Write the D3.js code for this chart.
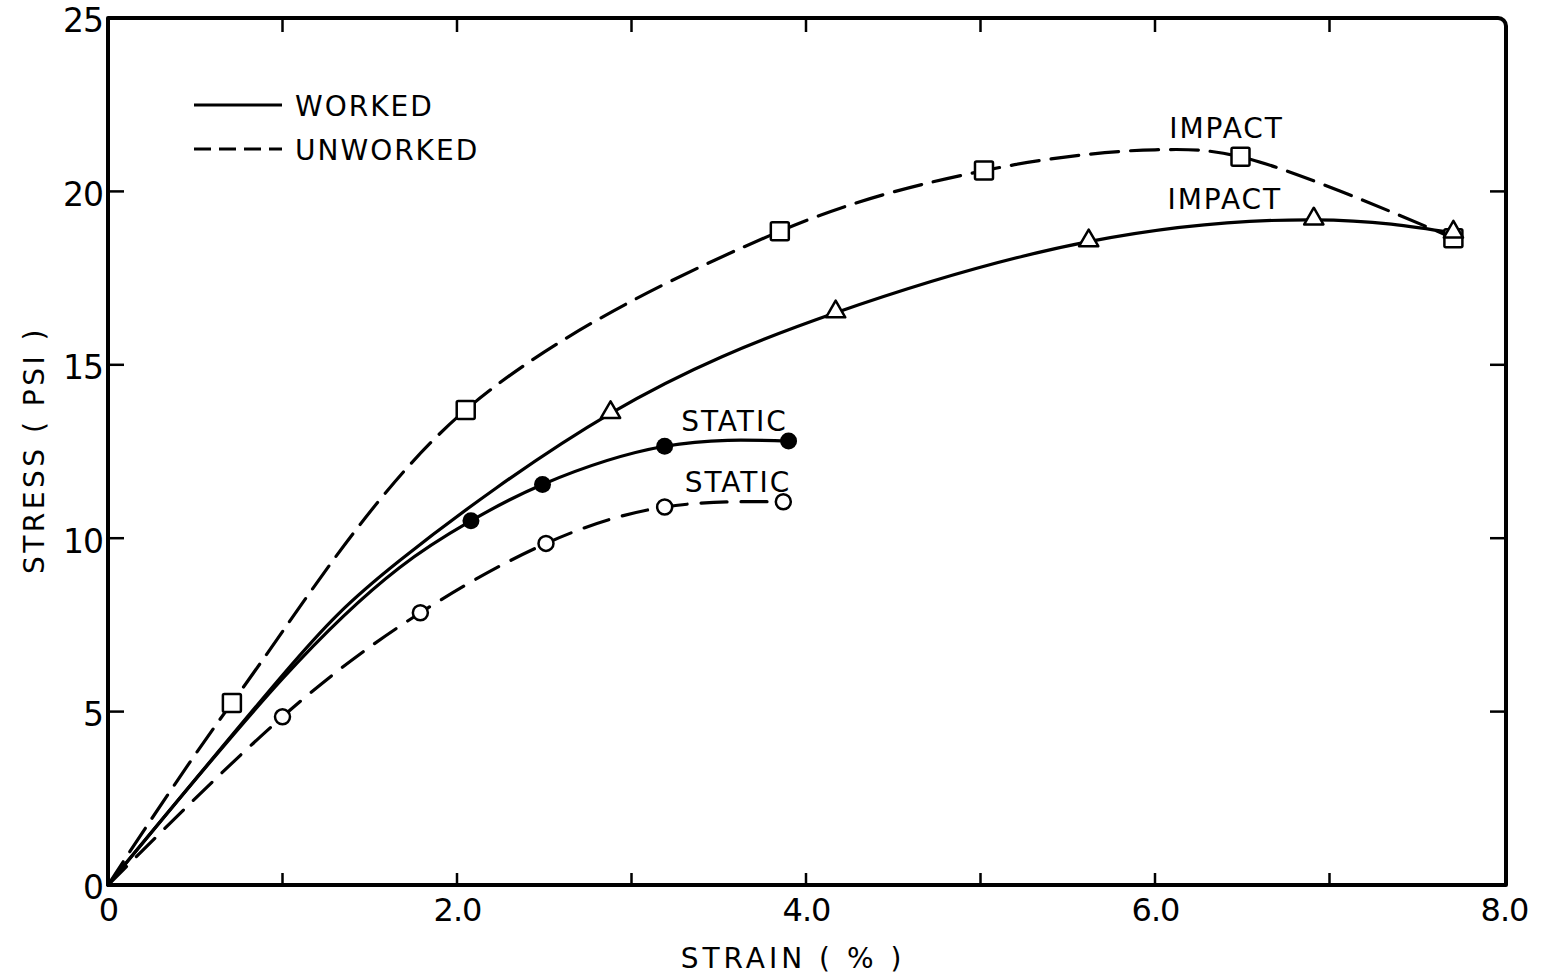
<!DOCTYPE html>
<html>
<head>
<meta charset="utf-8">
<script src="https://cdn.jsdelivr.net/npm/d3@7"></script>
<style>
  html, body { margin: 0; padding: 0; background: #fff; }
  svg { display: block; }
  text { font-family: "DejaVu Sans", sans-serif; fill: #000; }
</style>
</head>
<body>
<svg id="chart" width="1543" height="977"></svg>
<script>
// Stress-strain curves: each point is [strain %, stress psi, hasMarker]
const unworkedImpact = [[0,0,0],[0.71,5.25,1],[2.05,13.7,1],[3.85,18.85,1],[5.02,20.6,1],[6.0,21.2,0],[6.49,21.0,1],[7.71,18.65,1]];
const workedImpact   = [[0,0,0],[1.0,6.05,0],[1.67,9.35,0],[2.88,13.6,1],[4.17,16.5,1],[5.62,18.55,1],[6.91,19.18,1],[7.71,18.8,1]];
const workedStatic   = [[0,0,0],[1.0,5.95,0],[1.67,9.15,0],[2.08,10.5,1],[2.49,11.55,1],[3.19,12.65,1],[3.9,12.8,1]];
const unworkedStatic = [[0,0,0],[1.0,4.85,1],[1.79,7.85,1],[2.51,9.85,1],[3.19,10.9,1],[3.87,11.05,1]];

const xTicks = [0,1,2,3,4,5,6,7,8];
const xTickLabels = ["0","","2.0","","4.0","","6.0","","8.0"];
const yTicks = [0,5,10,15,20,25];
const yTickLabels = ["0","5","10","15","20","25"];

const legendItems = ["WORKED", "UNWORKED"];
const curveLabels = [
  {text: "IMPACT", x: 6.41, y: 21.55},
  {text: "IMPACT", x: 6.40, y: 19.5},
  {text: "STATIC", x: 3.59, y: 13.08},
  {text: "STATIC", x: 3.61, y: 11.33}
];

const svg = d3.select("#chart");
const L = 108, R = 1506, T = 18, B = 885;
const x = d3.scaleLinear().domain([0, 8]).range([L, 1504]);
const y = d3.scaleLinear().domain([0, 25]).range([B, T]);

// Frame with a rounded top-right corner
const fp = d3.path();
fp.moveTo(L, B);
fp.lineTo(L, T);
fp.lineTo(R - 8, T);
fp.arcTo(R, T, R, T + 8, 8);
fp.lineTo(R, B);
fp.closePath();
svg.append("path").attr("d", fp.toString())
  .attr("fill", "none").attr("stroke", "#000").attr("stroke-width", 4)
  .attr("stroke-linejoin", "round");

// Inward ticks on all four sides
const inner = xTicks.filter(v => v > 0 && v < 8);
const gx = svg.append("g").attr("transform", `translate(0,${B})`)
  .call(d3.axisBottom(x).tickValues(xTicks).tickSizeInner(0).tickSizeOuter(0)
    .tickFormat((d, i) => xTickLabels[i]).tickPadding(13));
gx.select(".domain").remove();
gx.selectAll("text").attr("font-size", 32).attr("letter-spacing", -1).attr("dy", "0.71em");

svg.append("g").selectAll("line").data(inner).join("line")
  .attr("x1", d => x(d)).attr("x2", d => x(d))
  .attr("y1", B).attr("y2", B - 12)
  .attr("stroke", "#000").attr("stroke-width", 2.5);
svg.append("g").selectAll("line").data(inner).join("line")
  .attr("x1", d => x(d)).attr("x2", d => x(d))
  .attr("y1", T).attr("y2", T + 14)
  .attr("stroke", "#000").attr("stroke-width", 2.5);

const gy = svg.append("g").attr("transform", `translate(${L},0)`)
  .call(d3.axisLeft(y).tickValues(yTicks).tickSizeInner(0).tickSizeOuter(0)
    .tickFormat((d, i) => yTickLabels[i]).tickPadding(5));
gy.select(".domain").remove();
gy.selectAll("text").attr("font-size", 33).attr("letter-spacing", -1).attr("dy", "0.42em");

const innerY = yTicks.filter(v => v > 0 && v < 25);
svg.append("g").selectAll("line").data(innerY).join("line")
  .attr("x1", L).attr("x2", L + 16)
  .attr("y1", d => y(d)).attr("y2", d => y(d))
  .attr("stroke", "#000").attr("stroke-width", 2.5);
svg.append("g").selectAll("line").data(innerY).join("line")
  .attr("x1", R).attr("x2", R - 16)
  .attr("y1", d => y(d)).attr("y2", d => y(d))
  .attr("stroke", "#000").attr("stroke-width", 2.5);

// Axis titles
svg.append("text").attr("x", 793).attr("y", 968)
  .attr("text-anchor", "middle").attr("font-size", 28).attr("letter-spacing", 4)
  .text("STRAIN  ( % )");
svg.append("text")
  .attr("transform", "translate(44,450) rotate(-90)")
  .attr("text-anchor", "middle").attr("font-size", 28).attr("letter-spacing", 3.5)
  .text("STRESS ( PSI )");

// Curves
const smooth = d3.line().x(d => x(d[0])).y(d => y(d[1])).curve(d3.curveCatmullRom.alpha(0.5));
const natural = d3.line().x(d => x(d[0])).y(d => y(d[1])).curve(d3.curveNatural);
const series = [
  {data: unworkedImpact, dash: "28,12", marker: "square",   line: smooth},
  {data: workedImpact,   dash: null,    marker: "triangle", line: natural},
  {data: workedStatic,   dash: null,    marker: "dot",      line: natural},
  {data: unworkedStatic, dash: "26,14", marker: "circle",   line: natural}
];

series.forEach(s => {
  svg.append("path").attr("d", s.line(s.data))
    .attr("fill", "none").attr("stroke", "#000").attr("stroke-width", 3.2)
    .attr("stroke-dasharray", s.dash)
    .attr("stroke-linecap", "round");
});

// Markers
series.forEach(s => {
  const pts = s.data.filter(d => d[2]);
  const g = svg.append("g");
  if (s.marker === "square") {
    g.selectAll("rect").data(pts).join("rect")
      .attr("x", d => x(d[0]) - 9).attr("y", d => y(d[1]) - 9)
      .attr("width", 18).attr("height", 18).attr("rx", 1.5)
      .attr("fill", "#fff").attr("stroke", "#000").attr("stroke-width", 2.5);
  } else if (s.marker === "triangle") {
    const tri = d3.symbol().type(d3.symbolTriangle).size(160);
    g.selectAll("path").data(pts).join("path")
      .attr("d", tri)
      .attr("transform", d => `translate(${x(d[0])},${y(d[1]) - 1})`)
      .attr("fill", "#fff").attr("stroke", "#000").attr("stroke-width", 2.5)
      .attr("stroke-linejoin", "round");
  } else if (s.marker === "dot") {
    g.selectAll("circle").data(pts).join("circle")
      .attr("cx", d => x(d[0])).attr("cy", d => y(d[1])).attr("r", 8.5)
      .attr("fill", "#000");
  } else {
    g.selectAll("circle").data(pts).join("circle")
      .attr("cx", d => x(d[0])).attr("cy", d => y(d[1])).attr("r", 7.5)
      .attr("fill", "#fff").attr("stroke", "#000").attr("stroke-width", 2.5);
  }
});

// Curve labels
svg.append("g").selectAll("text").data(curveLabels).join("text")
  .attr("x", d => x(d.x)).attr("y", d => y(d.y))
  .attr("text-anchor", "middle").attr("font-size", 28).attr("letter-spacing", 2)
  .text(d => d.text);

// Legend
const lg = svg.append("g");
[0, 1].forEach(i => {
  const yy = 105 + i * 44;
  lg.append("line").attr("x1", 194).attr("x2", 282).attr("y1", yy).attr("y2", yy)
    .attr("stroke", "#000").attr("stroke-width", 3.2)
    .attr("stroke-dasharray", i ? "17,8" : null);
  lg.append("text").attr("x", 295).attr("y", yy + 11)
    .attr("font-size", 28).attr("letter-spacing", 2)
    .text(legendItems[i]);
});
</script>
</body>
</html>
